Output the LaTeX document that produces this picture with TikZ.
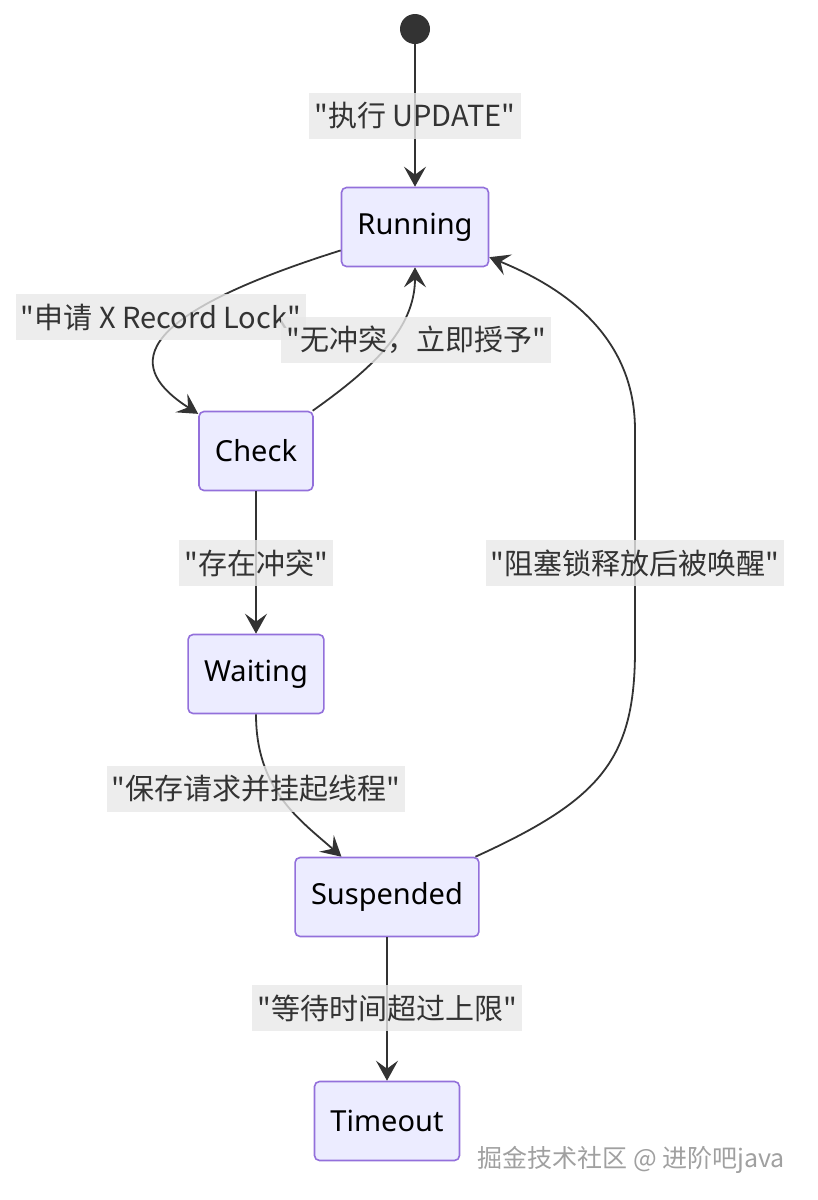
\documentclass[tikz,border=0pt]{standalone}
\usepackage{fontspec}
\setmainfont{Noto Sans}
\newfontfamily\cjk{Noto Sans CJK SC}
\usepackage{xcolor}
\usepackage{tikz}
\usetikzlibrary{arrows.meta}
\definecolor{stfill}{HTML}{ECECFF}
\definecolor{stline}{HTML}{9370DB}
\definecolor{edgegray}{HTML}{333333}
\definecolor{lblbg}{HTML}{E8E8E8}
\definecolor{markgray}{HTML}{A0A0A0}

\begin{document}
\begin{tikzpicture}[
  x=0.5pt, y=-0.5pt,
  state/.style={rectangle, rounded corners=2.5pt, draw=stline, fill=stfill,
                line width=0.8pt, font=\fontsize{14.5}{16}\selectfont,
                inner xsep=8pt, minimum height=39.5pt},
  init/.style={circle, fill=edgegray, minimum size=15pt, inner sep=0pt},
  arr/.style={-{Stealth[length=10pt, width=11pt, inset=4pt]}, line width=0.9pt, edgegray},
  lbl/.style={fill=lblbg, fill opacity=0.8, text opacity=1, text=edgegray,
              font=\cjk\fontsize{14.5}{16}\selectfont, inner xsep=2.5pt, inner ysep=0pt,
              minimum height=23pt}
]
\useasboundingbox (0,0) rectangle (818,1200);

% states
\node[init] (start) at (415,29) {};
\node[state] (running) at (415,227) {Running};
\node[state] (check) at (256,451) {Check};
\node[state] (waiting) at (256,674) {Waiting};
\node[state] (suspended) at (387,897) {Suspended};
\node[state] (timeout) at (387,1121) {Timeout};

% transitions
\draw[arr] (start) -- (running);
\draw[arr] (running) .. controls (120,320) and (130,370) .. (check);
\draw[arr] (check) .. controls (370,370) and (415,330) .. (running);
\draw[arr] (check) -- (waiting);
\draw[arr] (waiting) .. controls (256,790) and (300,820) .. (suspended);
\draw[arr] (suspended) .. controls (600,800) and (635,760) .. (635,650)
  -- (635,430) .. controls (635,340) and (570,290) .. (running);
\draw[arr] (suspended) -- (timeout);

% labels
\node[lbl] (l-exec) at (415,116) {"执行 UPDATE"};
\node[lbl] (l-apply) at (161,317) {"申请 X Record Lock"};
\node[lbl] (l-grant) at (416,340) {"无冲突，立即授予"};
\node[lbl] (l-conflict) at (256,563) {"存在冲突"};
\node[lbl] (l-wake) at (635,563) {"阻塞锁释放后被唤醒"};
\node[lbl] (l-hang) at (256,789) {"保存请求并挂起线程"};
\node[lbl] (l-timeout) at (387,1008) {"等待时间超过上限"};

\node[font=\cjk\fontsize{12.5}{14}\selectfont, text=markgray, anchor=east] (mark) at (792,1160) {掘金技术社区 @ 进阶吧java};
\end{tikzpicture}
\end{document}
